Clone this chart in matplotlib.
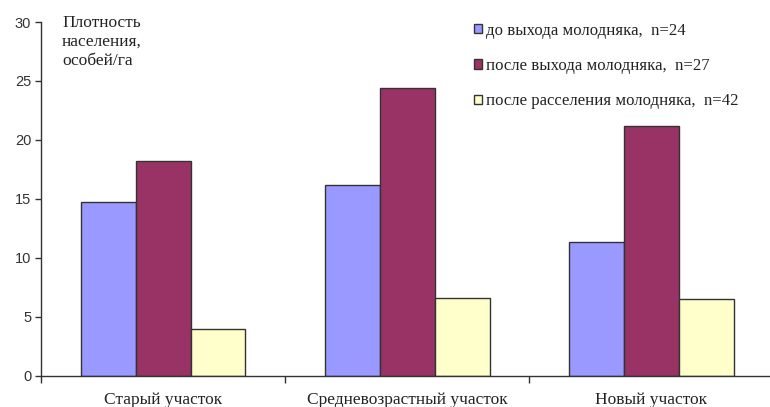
import matplotlib
matplotlib.use('Agg')
import matplotlib.pyplot as plt
import numpy as np
from matplotlib.patches import Patch

categories = ['Старый участок', 'Средневозрастный участок', 'Новый участок']
series_names = ['до выхода молодняка,  n=24',
                'после выхода молодняка,  n=27',
                'после расселения молодняка,  n=42']
before_exit = [14.7, 16.2, 11.3]
after_exit = [18.2, 24.4, 21.2]
after_dispersal = [4.0, 6.6, 6.5]
colors = ['#9999FF', '#993366', '#FFFFCC']

serif = ['Liberation Serif', 'DejaVu Serif']
sans = ['Liberation Sans', 'DejaVu Sans']
fs = 12.5

fig = plt.figure(figsize=(7.70, 4.07), dpi=100)
ax = fig.add_axes([41 / 770, 31.3 / 407, (773.5 - 41) / 770, (375.7 - 22) / 407])

x = np.arange(len(categories))
w = 0.225
for i, vals in enumerate([before_exit, after_exit, after_dispersal]):
    ax.bar(x + (i - 1) * w, vals, width=w, color=colors[i],
           edgecolor='#333333', linewidth=1.0, zorder=2)

ax.set_xlim(-0.5, 2.5)
ax.set_ylim(0, 30)
ax.set_yticks(range(0, 31, 5))
for sp in ['top', 'right']:
    ax.spines[sp].set_visible(False)
for sp in ['left', 'bottom']:
    ax.spines[sp].set_color('#333333')
    ax.spines[sp].set_linewidth(1.0)

ax.tick_params(axis='y', direction='out', length=4, width=1, color='#333333',
               labelsize=10.5, labelcolor='#333333', pad=3)
for lbl in ax.get_yticklabels():
    lbl.set_family(sans)

ax.set_xticks(x)
ax.set_xticklabels(categories, family=serif, fontsize=fs, color='#222222')
ax.set_xticks([-0.5, 0.5, 1.5, 2.5], minor=True)
ax.tick_params(axis='x', which='major', length=0, pad=12)
ax.tick_params(axis='x', which='minor', direction='out', length=5, width=1, color='#333333')

fig.text(62 / 770, 1 - 15 / 407, 'Плотность\nнаселения,\nособей/га', family=serif,
         fontsize=fs, va='top', ha='left', linespacing=1.25, color='#222222')

handles = [Patch(facecolor=c, edgecolor='#333333', linewidth=1.0) for c in colors]
fig.legend(handles, series_names, loc='upper left', bbox_to_anchor=(467 / 770, 1 - 16 / 407),
           frameon=False, prop={'family': serif, 'size': 12.1}, handlelength=0.47,
           handleheight=0.47, handletextpad=0.25, labelspacing=1.15, borderaxespad=0,
           labelcolor='#222222')

fig.savefig('out.png', dpi=100)
